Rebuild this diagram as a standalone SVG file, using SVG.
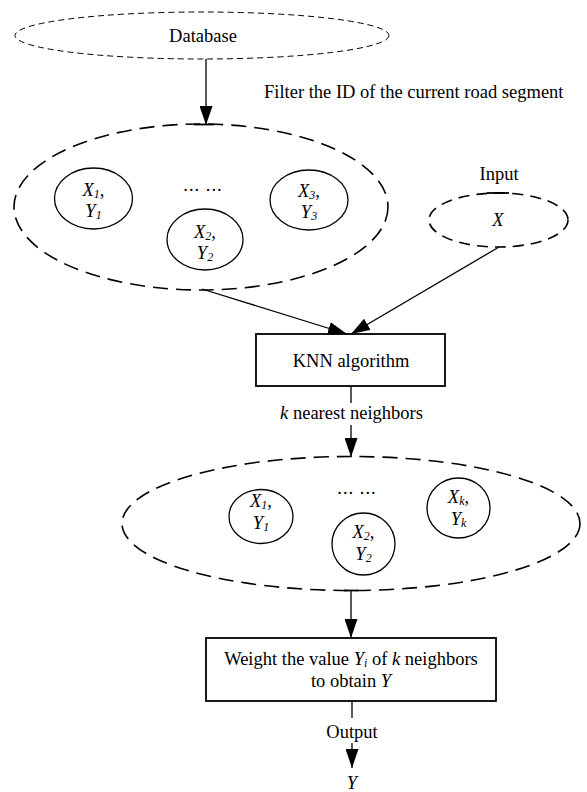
<svg xmlns="http://www.w3.org/2000/svg" width="587" height="792" viewBox="0 0 587 792">
  <style>
    text { font-family: "Liberation Serif", "Times New Roman", serif; font-size: 18.5px; fill: #000; }
    .mid { text-anchor: middle; }
    .it { font-style: italic; }
    .sub { font-size: 12px; font-style: italic; }
    .thin-dash { fill: none; stroke: #000; stroke-width: 1; stroke-dasharray: 6 4; }
    .set { fill: none; stroke: #000; stroke-width: 1.6; stroke-dasharray: 15 8; }
    .in-dash { fill: none; stroke: #000; stroke-width: 1.6; stroke-dasharray: 11 7; }
    .item { fill: #fff; stroke: #000; stroke-width: 1.3; }
    .box { fill: #fff; stroke: #000; stroke-width: 1.8; }
    .tick { stroke: #000; stroke-width: 1.8; }
    .edge { fill: none; stroke: #000; stroke-width: 1.3; }
  </style>
  <defs>
    <marker id="arrow" markerUnits="userSpaceOnUse" markerWidth="19" markerHeight="13" refX="19" refY="6.5" orient="auto">
      <path d="M0,0 L19,6.5 L0,13 z" fill="#000"/>
    </marker>
  </defs>

  <rect width="587" height="792" fill="#fff"/>

  <!-- data source -->
  <g id="database">
    <ellipse class="thin-dash" cx="202" cy="35.5" rx="187" ry="23.5"/>
    <text class="mid" x="203" y="42">Database</text>
  </g>

  <text id="filter-label" x="264" y="98">Filter the ID of the current road segment</text>

  <!-- samples of the selected road segment -->
  <g id="sample-set">
    <ellipse class="set" cx="201" cy="207" rx="187" ry="83"/>
    <line class="tick" x1="194" y1="124.5" x2="214" y2="124.5"/>
    <text class="mid" x="203" y="191" letter-spacing="1">... ...</text>
  </g>
  <g id="sample-1">
    <ellipse class="item" cx="93.5" cy="198.5" rx="39" ry="30.5"/>
    <text class="mid it" x="93.5" y="196">X<tspan class="sub" dy="2">1</tspan><tspan dy="-2" font-style="normal">,</tspan></text>
    <text class="mid it" x="93.5" y="217">Y<tspan class="sub" dy="2">1</tspan></text>
  </g>
  <g id="sample-2">
    <ellipse class="item" cx="205" cy="239.5" rx="38" ry="30.5"/>
    <text class="mid it" x="205" y="238">X<tspan class="sub" dy="2">2</tspan><tspan dy="-2" font-style="normal">,</tspan></text>
    <text class="mid it" x="205" y="259">Y<tspan class="sub" dy="2">2</tspan></text>
  </g>
  <g id="sample-3">
    <ellipse class="item" cx="309" cy="200" rx="39" ry="30"/>
    <text class="mid it" x="309" y="197">X<tspan class="sub" dy="2">3</tspan><tspan dy="-2" font-style="normal">,</tspan></text>
    <text class="mid it" x="309" y="218">Y<tspan class="sub" dy="2">3</tspan></text>
  </g>

  <!-- query input -->
  <g id="input">
    <text class="mid" x="499" y="180">Input</text>
    <ellipse class="in-dash" cx="498.5" cy="220" rx="69.5" ry="27"/>
    <line class="tick" x1="487" y1="193" x2="509" y2="193"/>
    <text class="mid it" x="498" y="226">X</text>
  </g>

  <g id="knn">
    <rect class="box" x="256" y="334" width="189" height="52"/>
    <text class="mid" x="351" y="367">KNN algorithm</text>
  </g>

  <!-- k nearest neighbours -->
  <g id="neighbor-set">
    <ellipse class="set" cx="351" cy="523.5" rx="229" ry="67"/>
    <line class="tick" x1="344" y1="590.5" x2="358" y2="590.5"/>
    <text class="mid" x="357" y="494" letter-spacing="1">... ...</text>
  </g>
  <g id="neighbor-1">
    <ellipse class="item" cx="261" cy="516.5" rx="32" ry="27"/>
    <text class="mid it" x="261" y="507">X<tspan class="sub" dy="2">1</tspan><tspan dy="-2" font-style="normal">,</tspan></text>
    <text class="mid it" x="261" y="529">Y<tspan class="sub" dy="2">1</tspan></text>
  </g>
  <g id="neighbor-2">
    <ellipse class="item" cx="363.5" cy="544" rx="31.5" ry="31"/>
    <text class="mid it" x="363.5" y="538">X<tspan class="sub" dy="2">2</tspan><tspan dy="-2" font-style="normal">,</tspan></text>
    <text class="mid it" x="363.5" y="560">Y<tspan class="sub" dy="2">2</tspan></text>
  </g>
  <g id="neighbor-k">
    <ellipse class="item" cx="458.5" cy="508" rx="31.5" ry="30"/>
    <text class="mid it" x="458.5" y="503">X<tspan class="sub" dy="2">k</tspan><tspan dy="-2" font-style="normal">,</tspan></text>
    <text class="mid it" x="458.5" y="525">Y<tspan class="sub" dy="2">k</tspan></text>
  </g>

  <g id="weighting">
    <rect class="box" x="206" y="638" width="290" height="63"/>
    <text class="mid" x="351" y="665">Weight the value <tspan class="it">Y</tspan><tspan class="sub" dy="2">i</tspan><tspan dy="-2"> of </tspan><tspan class="it">k</tspan> neighbors</text>
    <text class="mid" x="351" y="687">to obtain <tspan class="it">Y</tspan></text>
  </g>

  <g id="result">
    <text class="mid it" x="352" y="789">Y</text>
  </g>

  <!-- connectors -->
  <g id="connectors">
    <line class="edge" x1="206" y1="59" x2="206" y2="125" marker-end="url(#arrow)"/>
    <line class="edge" x1="202" y1="289" x2="347" y2="334" marker-end="url(#arrow)"/>
    <line class="edge" x1="499" y1="247" x2="351" y2="334" marker-end="url(#arrow)"/>
    <line class="edge" x1="351" y1="386" x2="351" y2="403"/>
    <text class="mid" x="351.5" y="419"><tspan class="it">k</tspan> nearest neighbors</text>
    <line class="edge" x1="351" y1="425" x2="351" y2="457" marker-end="url(#arrow)"/>
    <line class="edge" x1="351" y1="591" x2="351" y2="638" marker-end="url(#arrow)"/>
    <line class="edge" x1="352" y1="701" x2="352" y2="718"/>
    <text class="mid" x="352" y="738">Output</text>
    <line class="edge" x1="352" y1="743" x2="352" y2="768" marker-end="url(#arrow)"/>
  </g>
</svg>
